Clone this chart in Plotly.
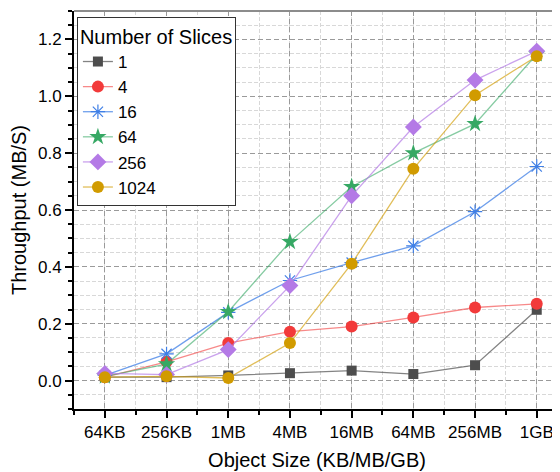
import plotly.graph_objects as go

sizes = ["64KB", "256KB", "1MB", "4MB", "16MB", "64MB", "256MB", "1GB"]
slices = ["1", "4", "16", "64", "256", "1024"]

s1 = [0.012, 0.012, 0.018, 0.026, 0.035, 0.023, 0.054, 0.249]
s4 = [0.012, 0.066, 0.132, 0.172, 0.190, 0.222, 0.257, 0.270]
s16 = [0.018, 0.094, 0.240, 0.352, 0.415, 0.474, 0.594, 0.753]
s64 = [0.015, 0.058, 0.242, 0.488, 0.682, 0.800, 0.903, 1.148]
s256 = [0.025, 0.021, 0.109, 0.334, 0.650, 0.892, 1.057, 1.159]
s1024 = [0.012, 0.015, 0.009, 0.132, 0.411, 0.745, 1.004, 1.141]

series = [s1, s4, s16, s64, s256, s1024]
marker_colors = ["#4d4d4d", "#f23a3a", "#3f7fe6", "#36a864", "#b47ae6", "#d19b00"]
line_colors = ["rgba(90,90,90,0.75)", "rgba(242,58,58,0.6)", "rgba(63,127,230,0.75)",
               "rgba(54,168,100,0.6)", "rgba(180,122,230,0.7)", "rgba(209,155,0,0.65)"]
symbols = ["square", "circle", "asterisk-open", "star", "diamond", "circle"]
msizes = [10, 12, 12, 13, 13, 12]

xidx = list(range(len(sizes)))

fig = go.Figure()
for name, ys, mc, lc, sym, ms in zip(slices, series, marker_colors, line_colors, symbols, msizes):
    marker = dict(symbol=sym, size=ms, color=mc)
    if sym == "asterisk-open":
        marker["line"] = dict(color=mc, width=1.2)
    else:
        marker["line"] = dict(width=0)
    fig.add_trace(go.Scatter(x=xidx, y=ys, name=name, mode="lines+markers",
                             line=dict(color=lc, width=1.3), marker=marker))

font_family = "Arial, Liberation Sans, sans-serif"

# page body has an 8px margin, so the figure is drawn at (8, 8) in the window
fig.update_layout(
    width=552, height=464,
    margin=dict(l=66, r=0, t=3, b=63),
    paper_bgcolor="white", plot_bgcolor="white",
    font=dict(family=font_family, color="black", size=16),
    showlegend=True,
    legend=dict(
        title=dict(text="Number of Slices", font=dict(size=20)),
        font=dict(size=17),
        x=0.006, y=0.985, xanchor="left", yanchor="top",
        bgcolor="white", bordercolor="#333333", borderwidth=1,
        tracegroupgap=0,
    ),
    xaxis=dict(
        range=[-0.5, 7.377], automargin=False,
        tickmode="array", tickvals=xidx, ticktext=sizes,
        showline=True, linecolor="black", linewidth=2,
        ticks="outside", ticklen=7, tickwidth=2, tickcolor="black",
        showgrid=True, gridcolor="#9a9a9a", gridwidth=1, griddash="5px,3px",
        zeroline=False,
        tickfont=dict(size=17),
        title=dict(text="Object Size (KB/MB/GB)", font=dict(size=20), standoff=12),
        minor=dict(tickmode="linear", tick0=0, dtick=0.5, ticks="outside", ticklen=4,
                   tickwidth=2, tickcolor="black", showgrid=True, gridcolor="#d8d8d8",
                   griddash="4px,2px", gridwidth=1),
    ),
    yaxis=dict(
        range=[-0.1, 1.3], automargin=False,
        tickmode="linear", tick0=0, dtick=0.2, tickformat=".1f",
        showline=True, linecolor="black", linewidth=2,
        ticks="outside", ticklen=7, tickwidth=2, tickcolor="black",
        showgrid=True, gridcolor="#9a9a9a", gridwidth=1, griddash="5px,3px",
        zeroline=False,
        tickfont=dict(size=17),
        title=dict(text="Throughput (MB/S)", font=dict(size=20), standoff=10),
        minor=dict(tickmode="linear", tick0=0, dtick=0.05, ticks="outside", ticklen=4,
                   tickwidth=2, tickcolor="black", showgrid=True, gridcolor="#d8d8d8",
                   griddash="4px,2px", gridwidth=1),
    ),
    shapes=[dict(type="line", xref="paper", yref="paper", x0=0, x1=1, y0=1, y1=1,
                 line=dict(color="#8c8c8c", width=2))],
)

fig.write_html("out.html")
